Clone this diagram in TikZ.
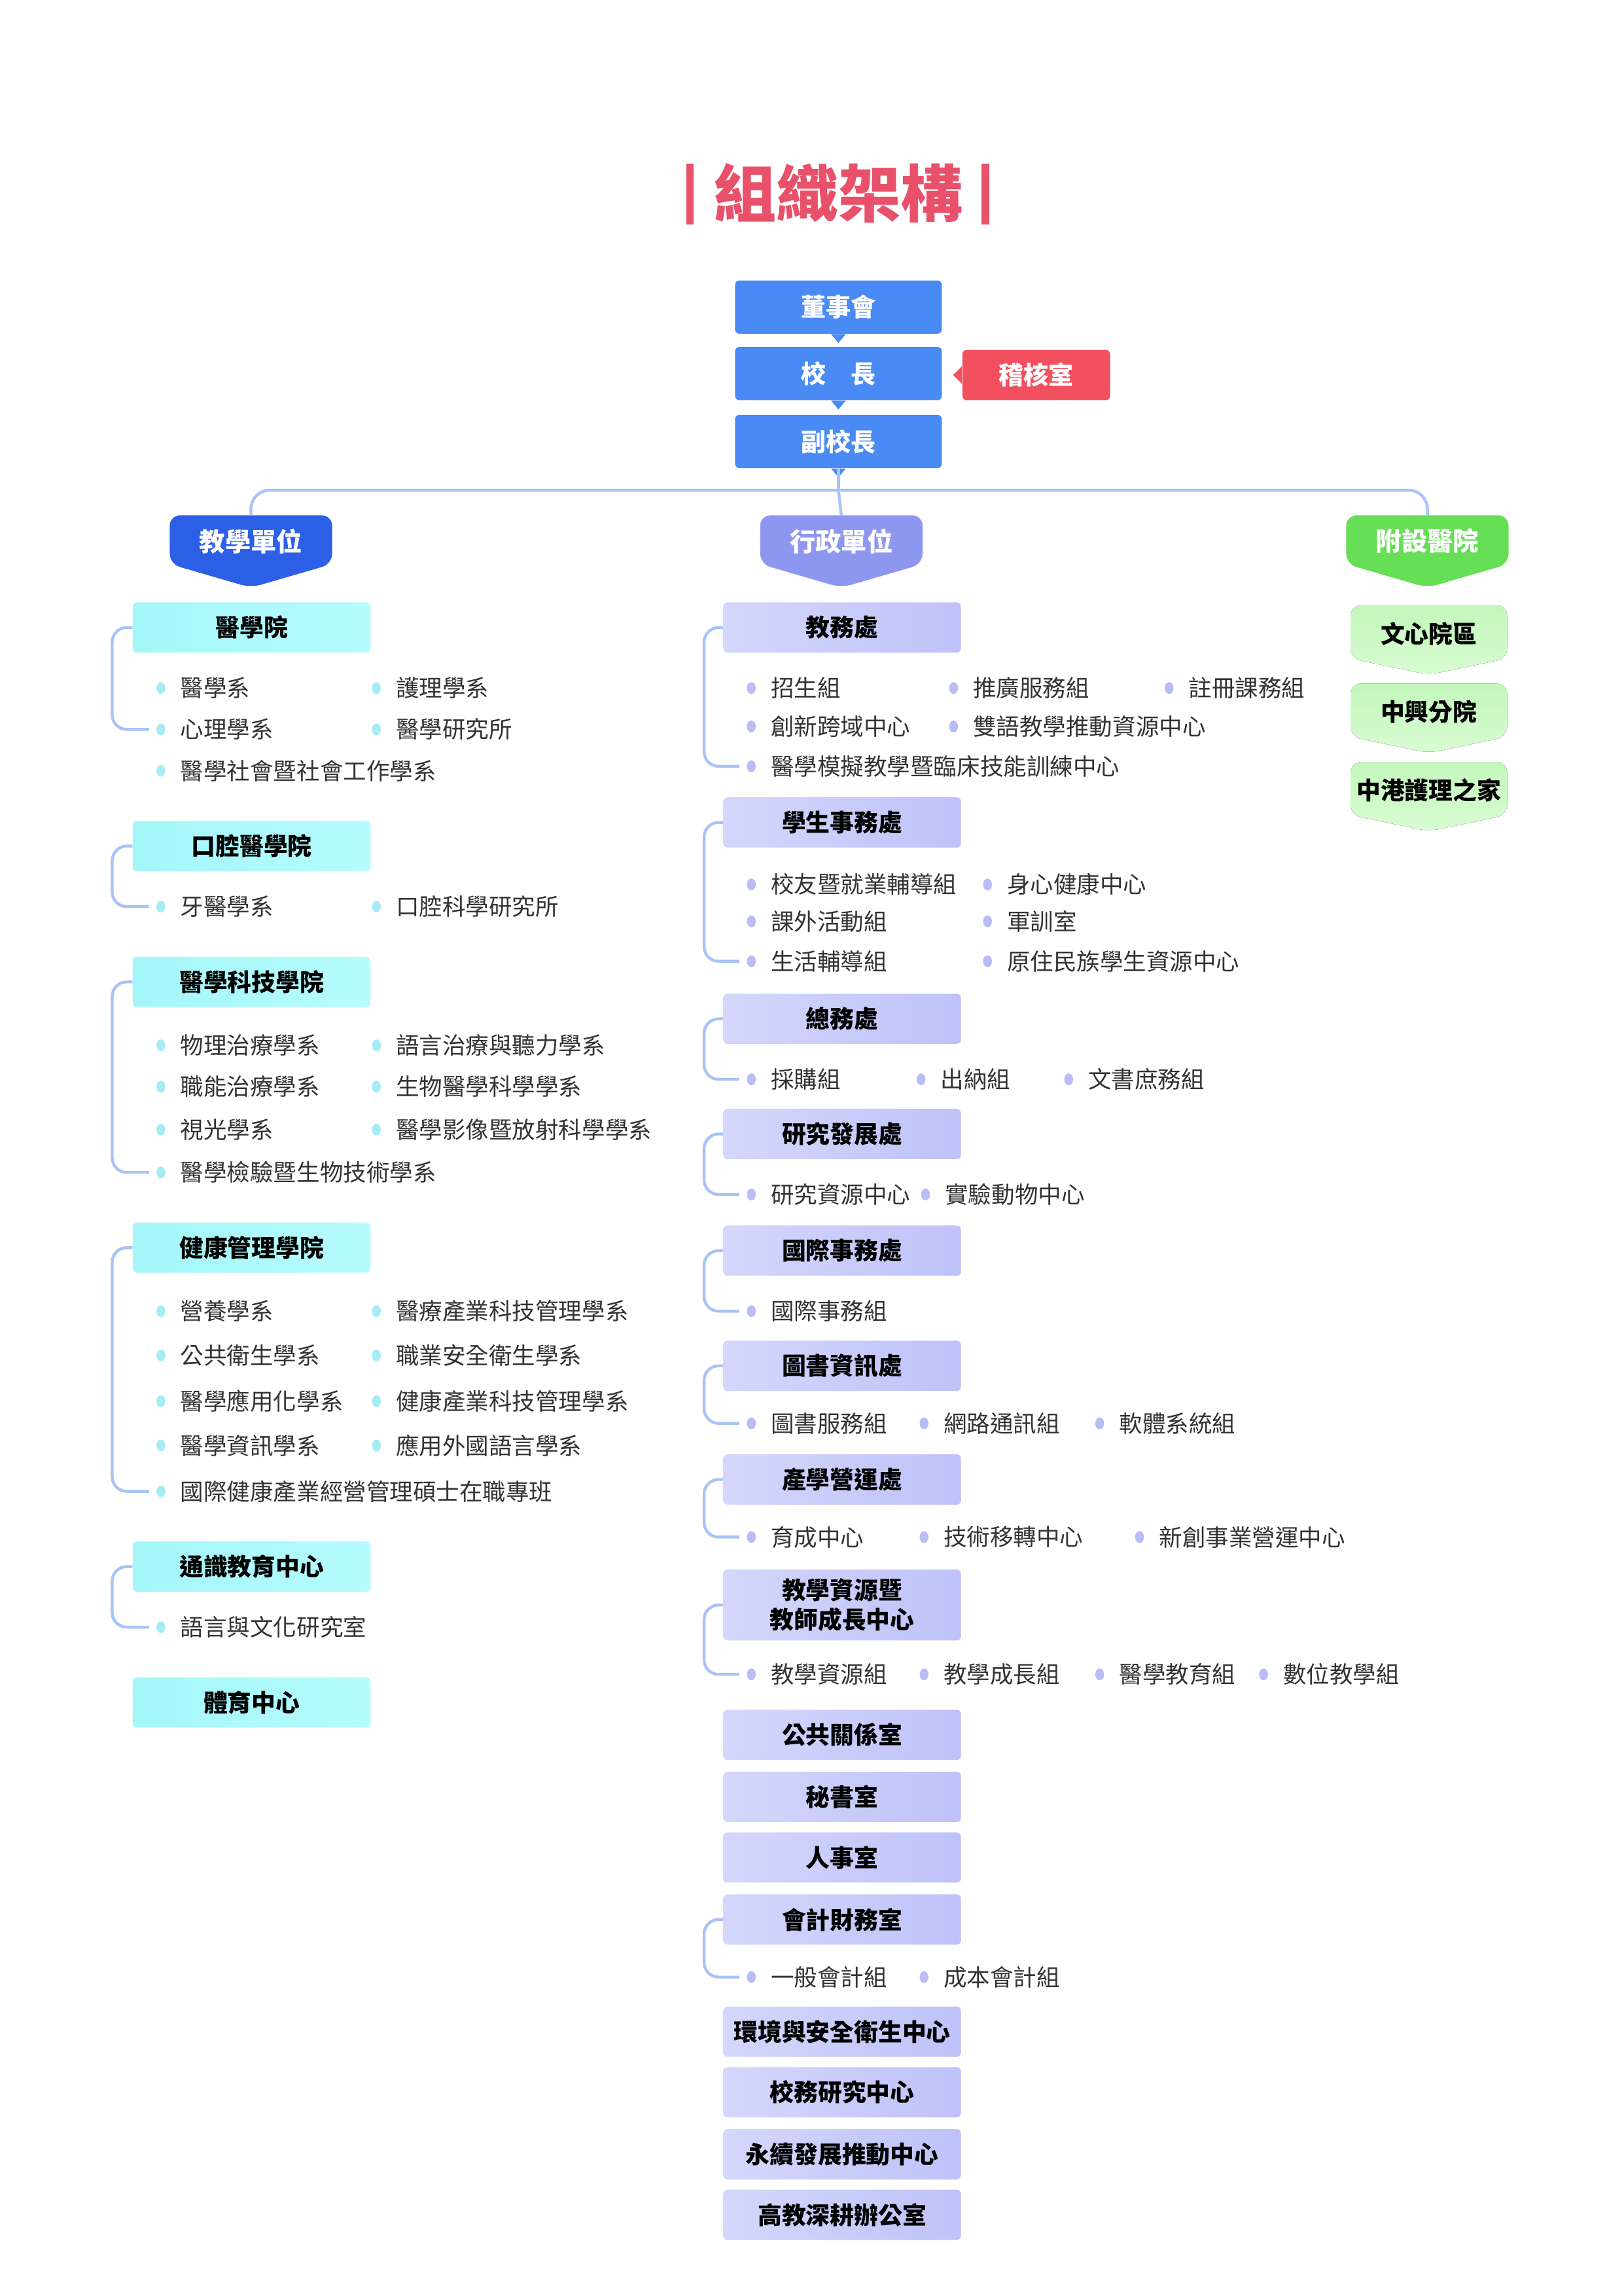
\documentclass[tikz,border=0pt]{standalone}
\usepackage{fontspec}
\setmainfont{Noto Sans CJK TC}
\newfontfamily\cjkb{Noto Sans CJK TC}[BoldFont={Noto Sans CJK TC Bold}]
\usetikzlibrary{calc}
\definecolor{blueA}{HTML}{4A8AF4}
\definecolor{redA}{HTML}{F2505F}
\definecolor{pinkT}{HTML}{E9506A}
\definecolor{deepB}{HTML}{2C5FE6}
\definecolor{lavH}{HTML}{8E97F0}
\definecolor{grnH}{HTML}{66DE55}
\definecolor{cyanL}{HTML}{A4F6F9}
\definecolor{cyanR}{HTML}{B6FCFE}
\definecolor{lavL}{HTML}{D4D7FB}
\definecolor{lavR}{HTML}{BEC2F8}
\definecolor{grnT}{HTML}{C4F7BC}
\definecolor{grnB}{HTML}{D8FBD2}
\definecolor{lineB}{HTML}{A8C4F6}
\definecolor{bulC}{HTML}{A6ECF6}
\definecolor{bulL}{HTML}{B8BDF5}
\definecolor{txt}{HTML}{333333}
\tikzset{
  topbx/.style={fill=blueA,rounded corners=2pt,minimum width=3.5cm,minimum height=0.9cm,text=white,font=\fontsize{12}{14}\selectfont\bfseries},
  lbx/.style={left color=cyanL,right color=cyanR,draw=none,rounded corners=2pt,minimum width=4.025cm,minimum height=0.85cm,font=\fontsize{11.6}{13}\selectfont\bfseries,text=black},
  mbx/.style={left color=lavL,right color=lavR,draw=none,rounded corners=2pt,minimum width=4.025cm,minimum height=0.85cm,font=\fontsize{11.6}{13}\selectfont\bfseries,text=black,align=center},
  itx/.style={anchor=west,inner sep=0pt,font=\fontsize{11.2}{13}\selectfont,text=txt},
  brk/.style={draw=lineB,line width=1.4pt,rounded corners=7pt},
  conn/.style={draw=lineB,line width=1.4pt,rounded corners=9pt},
  hdtxt/.style={text=white,font=\fontsize{12.4}{14}\selectfont\bfseries},
  gtxt/.style={text=black,font=\fontsize{11.6}{13}\selectfont\bfseries}
}
% item: name, textx, y, text, bulletcolor
\newcommand\itm[5]{\node[itx] (#1) at (#2,#3) {#4};
  \fill[#5] ($(#1.west)+(-13,0)$) ellipse[x radius=3,y radius=4];
  \coordinate (#1b) at ($(#1.west)+(-21,0)$);}
\newcommand\brak[3]{\draw[brk] (#1.west) -- (#1.west -| #3) |- (#2b);}
% pentagon header: name, cx, top, halfwidth, bodybottom, tip, fill opts, text, textstyle
\newcommand\pent[9]{\fill[#7,rounded corners=5pt] (#2-#4,#3) -- (#2+#4,#3) -- (#2+#4,#5) -- (#2,#6) -- (#2-#4,#5) -- cycle;
  \node[#9] (#1) at (#2,{(#3+#5)/2+1}) {#8};}
\begin{document}
\begin{tikzpicture}[x=0.025cm,y=-0.025cm]
\useasboundingbox (0,0) rectangle (1100,1555);
\fill[white] (0,0) rectangle (1100,1555);
\coordinate (LR) at (76,0);
\coordinate (MR) at (477,0);
% title
\fill[pinkT] (465,111) rectangle (470,152);
\fill[pinkT] (665,111) rectangle (670,152);
\node[text=pinkT,font=\fontsize{30}{32}\selectfont\bfseries] (title) at (568,131) {組織架構};
% top chain
\node[topbx] (board) at (568,208) {董事會};
\node[topbx] (pres) at (568,253) {校\quad 長};
\node[topbx] (vp) at (568,299) {副校長};
\node[fill=redA,rounded corners=2pt,minimum width=2.5cm,minimum height=0.85cm,text=white,font=\fontsize{12}{14}\selectfont\bfseries] (audit) at (702,254) {稽核室};
\fill[blueA] ($(board.south)+(-5,0)$) -- ($(board.south)+(5,0)$) -- ($(board.south)+(0,6)$) -- cycle;
\fill[blueA] ($(pres.south)+(-5,0)$) -- ($(pres.south)+(5,0)$) -- ($(pres.south)+(0,6)$) -- cycle;
\fill[blueA] ($(vp.south)+(-5,0)$) -- ($(vp.south)+(5,0)$) -- ($(vp.south)+(0,6)$) -- cycle;
\fill[redA] ($(audit.west)+(0,-6)$) -- ($(audit.west)+(0,6)$) -- ($(audit.west)+(-6,0)$) -- cycle;
% headers
\pent{jx}{170}{349}{55}{382}{398}{deepB}{教學單位}{hdtxt}
\pent{xz}{570}{349}{55}{382}{398}{lavH}{行政單位}{hdtxt}
\pent{yy}{967}{349}{55}{382}{398}{grnH}{附設醫院}{hdtxt}
\coordinate (hub) at (568,332);
\draw[conn] (vp.south) -- (hub);
\draw[conn] (jx.north |- 0,349) ;
\draw[conn] (170,349) |- (hub) -| (967,349);
\draw[conn] (hub) -- (570,349);
% hospitals
\pent{wx}{968}{410}{53}{446}{457}{top color=grnT,bottom color=grnB}{文心院區}{gtxt}
\pent{zx}{968}{463}{53}{499}{510}{top color=grnT,bottom color=grnB}{中興分院}{gtxt}
\pent{zg}{968}{516}{53}{552}{563}{top color=grnT,bottom color=grnB}{中港護理之家}{gtxt}
% ===== left column
\node[lbx] (m1) at (170.5,425) {醫學院};
\itm{a1}{122}{466}{醫學系}{bulC}\itm{a2}{268}{466}{護理學系}{bulC}
\itm{a3}{122}{494}{心理學系}{bulC}\itm{a4}{268}{494}{醫學研究所}{bulC}
\itm{a5}{122}{522}{醫學社會暨社會工作學系}{bulC}
\brak{m1}{a3}{LR}
\node[lbx] (m2) at (170.5,573) {口腔醫學院};
\itm{b1}{122}{614}{牙醫學系}{bulC}\itm{b2}{268}{614}{口腔科學研究所}{bulC}
\brak{m2}{b1}{LR}
\node[lbx] (m3) at (170.5,665) {醫學科技學院};
\itm{c1}{122}{708}{物理治療學系}{bulC}\itm{c2}{268}{708}{語言治療與聽力學系}{bulC}
\itm{c3}{122}{736}{職能治療學系}{bulC}\itm{c4}{268}{736}{生物醫學科學學系}{bulC}
\itm{c5}{122}{765}{視光學系}{bulC}\itm{c6}{268}{765}{醫學影像暨放射科學學系}{bulC}
\itm{c7}{122}{794}{醫學檢驗暨生物技術學系}{bulC}
\brak{m3}{c7}{LR}
\node[lbx] (m4) at (170.5,845) {健康管理學院};
\itm{d1}{122}{888}{營養學系}{bulC}\itm{d2}{268}{888}{醫療產業科技管理學系}{bulC}
\itm{d3}{122}{918}{公共衛生學系}{bulC}\itm{d4}{268}{918}{職業安全衛生學系}{bulC}
\itm{d5}{122}{949}{醫學應用化學系}{bulC}\itm{d6}{268}{949}{健康產業科技管理學系}{bulC}
\itm{d7}{122}{979}{醫學資訊學系}{bulC}\itm{d8}{268}{979}{應用外國語言學系}{bulC}
\itm{d9}{122}{1010}{國際健康產業經營管理碩士在職專班}{bulC}
\brak{m4}{d9}{LR}
\node[lbx] (m5) at (170.5,1061) {通識教育中心};
\itm{e1}{122}{1102}{語言與文化研究室}{bulC}
\brak{m5}{e1}{LR}
\node[lbx] (m6) at (170.5,1153) {體育中心};
% ===== middle column
\node[mbx] (x1) at (570.5,425) {教務處};
\itm{f1}{522}{466}{招生組}{bulL}\itm{f2}{659}{466}{推廣服務組}{bulL}\itm{f3}{805}{466}{註冊課務組}{bulL}
\itm{f4}{522}{492}{創新跨域中心}{bulL}\itm{f5}{659}{492}{雙語教學推動資源中心}{bulL}
\itm{f6}{522}{519}{醫學模擬教學暨臨床技能訓練中心}{bulL}
\brak{x1}{f6}{MR}
\node[mbx] (x2) at (570.5,557) {學生事務處};
\itm{g1}{522}{599}{校友暨就業輔導組}{bulL}\itm{g2}{682}{599}{身心健康中心}{bulL}
\itm{g3}{522}{624}{課外活動組}{bulL}\itm{g4}{682}{624}{軍訓室}{bulL}
\itm{g5}{522}{651}{生活輔導組}{bulL}\itm{g6}{682}{651}{原住民族學生資源中心}{bulL}
\brak{x2}{g5}{MR}
\node[mbx] (x3) at (570.5,690) {總務處};
\itm{h1}{522}{731}{採購組}{bulL}\itm{h2}{637}{731}{出納組}{bulL}\itm{h3}{737}{731}{文書庶務組}{bulL}
\brak{x3}{h1}{MR}
\node[mbx] (x4) at (570.5,768) {研究發展處};
\itm{i1}{522}{809}{研究資源中心}{bulL}\itm{i2}{640}{809}{實驗動物中心}{bulL}
\brak{x4}{i1}{MR}
\node[mbx] (x5) at (570.5,847) {國際事務處};
\itm{j1}{522}{888}{國際事務組}{bulL}
\brak{x5}{j1}{MR}
\node[mbx] (x6) at (570.5,925) {圖書資訊處};
\itm{k1}{522}{964}{圖書服務組}{bulL}\itm{k2}{639}{964}{網路通訊組}{bulL}\itm{k3}{758}{964}{軟體系統組}{bulL}
\brak{x6}{k1}{MR}
\node[mbx] (x7) at (570.5,1002) {產學營運處};
\itm{l1}{522}{1041}{育成中心}{bulL}\itm{l2}{639}{1041}{技術移轉中心}{bulL}\itm{l3}{785}{1041}{新創事業營運中心}{bulL}
\brak{x7}{l1}{MR}
\node[mbx,minimum height=1.2cm,font=\fontsize{11.6}{14}\selectfont\bfseries] (x8) at (570.5,1087) {教學資源暨\\教師成長中心};
\itm{n1}{522}{1134}{教學資源組}{bulL}\itm{n2}{639}{1134}{教學成長組}{bulL}\itm{n3}{758}{1134}{醫學教育組}{bulL}\itm{n4}{869}{1134}{數位教學組}{bulL}
\brak{x8}{n1}{MR}
\node[mbx] (x9) at (570.5,1175) {公共關係室};
\node[mbx] (x10) at (570.5,1217) {秘書室};
\node[mbx] (x11) at (570.5,1258) {人事室};
\node[mbx] (x12) at (570.5,1300) {會計財務室};
\itm{o1}{522}{1339}{一般會計組}{bulL}\itm{o2}{639}{1339}{成本會計組}{bulL}
\brak{x12}{o1}{MR}
\node[mbx] (x13) at (570.5,1376) {環境與安全衛生中心};
\node[mbx] (x14) at (570.5,1417) {校務研究中心};
\node[mbx] (x15) at (570.5,1459) {永續發展推動中心};
\node[mbx] (x16) at (570.5,1500) {高教深耕辦公室};
\end{tikzpicture}
\end{document}
